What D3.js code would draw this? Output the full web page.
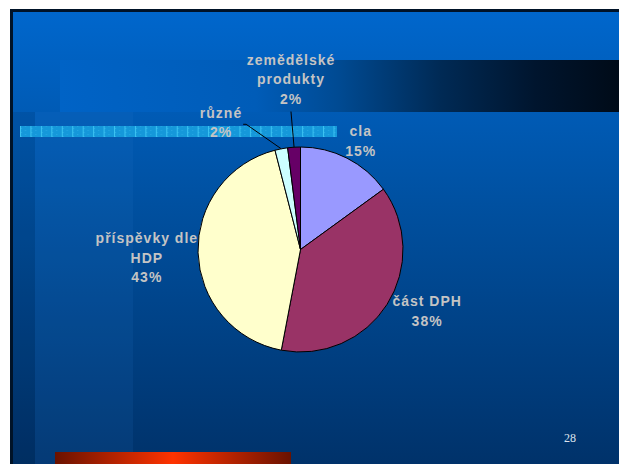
<!DOCTYPE html>
<html>
<head>
<meta charset="utf-8">
<script src="https://cdn.jsdelivr.net/npm/d3@7"></script>
<style>
  html, body { margin: 0; padding: 0; background: #fff; }
  svg { display: block; }
</style>
</head>
<body>
<div id="slide"></div>
<script>
// chart data
const categories = ['cla', 'část DPH', 'příspěvky dle HDP', 'různé', 'zemědělské produkty'];
const shares = [15, 38, 43, 2, 2];
const labelLines = [['cla'], ['část DPH'], ['příspěvky dle', 'HDP'], ['různé'], ['zemědělské', 'produkty']];
const sliceColors = ['#9999ff', '#993366', '#ffffcc', '#ccffff', '#660066'];
const pageNumber = '28';

const width = 619, height = 464;
const cx = 300.5, cy = 249.5, radius = 102.5;
const fontSize = 14, lineHeight = 19.5;
const font = '"Liberation Sans", Arial, sans-serif';

// labels that were dragged away from the pie and got a leader line
const movedLabels = {
	'různé': { angle: 328, dist: 150, leader: 'side' },
	'zemědělské produkty': { angle: 356.8, dist: 170.5, leader: 'bottom' }
};
// small hand nudges, like in the original slide
const labelNudge = {
	'cla': [3, 0],
	'část DPH': [4, -10],
	'příspěvky dle HDP': [8, 0],
	'různé': [0, -4],
	'zemědělské produkty': [0, -4]
};

const data = categories.map(function(c, i) {
	return { label: c, share: shares[i], lines: labelLines[i].concat([shares[i] + '%']), color: sliceColors[i] };
});

const svg = d3.select('#slide')
	.append('svg')
	.attr('width', width)
	.attr('height', height);

const defs = svg.append('defs');

const bg = defs.append('linearGradient').attr('id', 'bg')
	.attr('x1', 0).attr('y1', 0).attr('x2', 0).attr('y2', 1);
bg.append('stop').attr('offset', '0%').attr('stop-color', '#0067cd');
bg.append('stop').attr('offset', '45%').attr('stop-color', '#004f9e');
bg.append('stop').attr('offset', '100%').attr('stop-color', '#00326a');

const band = defs.append('linearGradient').attr('id', 'band')
	.attr('x1', 0).attr('y1', 0).attr('x2', 1).attr('y2', 0);
band.append('stop').attr('offset', '0%').attr('stop-color', '#0063c6');
band.append('stop').attr('offset', '35%').attr('stop-color', '#005cb8');
band.append('stop').attr('offset', '50%').attr('stop-color', '#004a92');
band.append('stop').attr('offset', '68%').attr('stop-color', '#002a55');
band.append('stop').attr('offset', '85%').attr('stop-color', '#00152e');
band.append('stop').attr('offset', '100%').attr('stop-color', '#000b18');

const red = defs.append('linearGradient').attr('id', 'red')
	.attr('x1', 0).attr('y1', 0).attr('x2', 1).attr('y2', 0);
red.append('stop').attr('offset', '0%').attr('stop-color', '#6a1200');
red.append('stop').attr('offset', '50%').attr('stop-color', '#ff3300');
red.append('stop').attr('offset', '100%').attr('stop-color', '#6a1200');

const pat = defs.append('pattern').attr('id', 'cells')
	.attr('patternUnits', 'userSpaceOnUse')
	.attr('x', 20).attr('y', 0)
	.attr('width', 10.45).attr('height', 4);
pat.append('rect').attr('width', 10.45).attr('height', 4).attr('fill', '#1598da');
pat.append('rect').attr('x', 1).attr('y', 0).attr('width', 1).attr('height', 1).attr('fill', '#2aa9e6');
pat.append('rect').attr('x', 5).attr('y', 2).attr('width', 1).attr('height', 1).attr('fill', '#2aa9e6');
pat.append('rect').attr('x', 0).attr('width', 1).attr('height', 4).attr('fill', '#3cc4f2');

// slide background and decoration
svg.append('rect').attr('x', 10).attr('y', 9).attr('width', width - 10).attr('height', height - 9)
	.attr('fill', 'url(#bg)');
svg.append('rect').attr('x', 13).attr('y', 112).attr('width', 22).attr('height', height - 112)
	.attr('fill', '#000').attr('opacity', 0.08);
svg.append('rect').attr('x', 35).attr('y', 112).attr('width', 98).attr('height', height - 112)
	.attr('fill', '#2a7fd0').attr('opacity', 0.12);
svg.append('rect').attr('x', 60).attr('y', 60).attr('width', width - 60).attr('height', 52)
	.attr('fill', 'url(#band)');
svg.append('rect').attr('x', 20).attr('y', 126).attr('width', 317).attr('height', 11)
	.attr('fill', 'url(#cells)');
svg.append('rect').attr('x', 55).attr('y', 452).attr('width', 236).attr('height', 12)
	.attr('fill', 'url(#red)');
svg.append('rect').attr('x', 10).attr('y', 9).attr('width', width - 10).attr('height', 3).attr('fill', '#001328');
svg.append('rect').attr('x', 10).attr('y', 9).attr('width', 3).attr('height', height - 9).attr('fill', '#001328');

svg.append('text')
	.attr('x', 570).attr('y', 442)
	.attr('text-anchor', 'middle')
	.style('font-family', '"Liberation Serif", "Times New Roman", serif')
	.style('font-size', '12px')
	.style('fill', '#dde4ee')
	.text(pageNumber);

// pie
const pie = d3.pie()
	.sort(null)
	.value(function(d) { return d.share; })(data);

const arc = d3.arc()
	.outerRadius(radius)
	.innerRadius(0);

const g = svg.append('g')
	.attr('transform', 'translate(' + cx + ',' + cy + ')');

g.selectAll('path.slice')
	.data(pie)
	.enter().append('path')
	.attr('class', 'slice')
	.attr('d', arc)
	.style('fill', function(d) { return d.data.color; })
	.style('stroke', '#000')
	.style('stroke-width', 1);

// measure label boxes
const measure = g.append('text')
	.style('font-family', font).style('font-size', fontSize + 'px').style('font-weight', 'bold')
	.style('letter-spacing', '1px');
function textWidth(s) {
	measure.text(s);
	return measure.node().getComputedTextLength();
}

pie.forEach(function(d) {
	const mid = (d.startAngle + d.endAngle) / 2;
	const w = d3.max(d.data.lines, textWidth) + 8;
	const h = d.data.lines.length * lineHeight;
	const moved = movedLabels[d.data.label];
	const nudge = labelNudge[d.data.label] || [0, 0];
	let x, y;
	if (moved) {
		const a = moved.angle * Math.PI / 180;
		x = moved.dist * Math.sin(a);
		y = -moved.dist * Math.cos(a);
	} else {
		const r = radius + 4;
		x = Math.sin(mid) * (r + w / 2);
		y = -Math.cos(mid) * (r + h / 2);
	}
	d.lx = x + nudge[0]; d.ly = y + nudge[1]; d.lw = w; d.lh = h; d.mid = mid; d.moved = moved;
});
measure.remove();

// leader lines
pie.filter(function(d) { return d.moved; }).forEach(function(d) {
	const p0 = [Math.sin(d.mid) * radius, -Math.cos(d.mid) * radius];
	let pts;
	if (d.moved.leader === 'side') {
		const ex = d.lx + d.lw / 2 - 3, ey = d.ly + 6;
		pts = [p0, [ex + 3, ey], [ex, ey]];
	} else {
		pts = [p0, [d.lx, d.ly + d.lh / 2 + 7]];
	}
	g.append('path')
		.attr('d', d3.line()(pts))
		.style('fill', 'none')
		.style('stroke', '#000')
		.style('stroke-width', 1);
});

const labels = g.selectAll('text.label')
	.data(pie)
	.enter().append('text')
	.attr('class', 'label')
	.attr('text-anchor', 'middle')
	.style('font-family', font)
	.style('font-size', fontSize + 'px')
	.style('font-weight', 'bold')
	.style('letter-spacing', '1px')
	.style('fill', '#c4c4c4');

labels.selectAll('tspan')
	.data(function(d) {
		return d.data.lines.map(function(t, i) {
			return { t: t, x: d.lx, y: d.ly - (d.data.lines.length - 1) * lineHeight / 2 + i * lineHeight + 9 };
		});
	})
	.enter().append('tspan')
	.attr('x', function(d) { return d.x; })
	.attr('y', function(d) { return d.y; })
	.text(function(d) { return d.t; });
</script>
</body>
</html>
